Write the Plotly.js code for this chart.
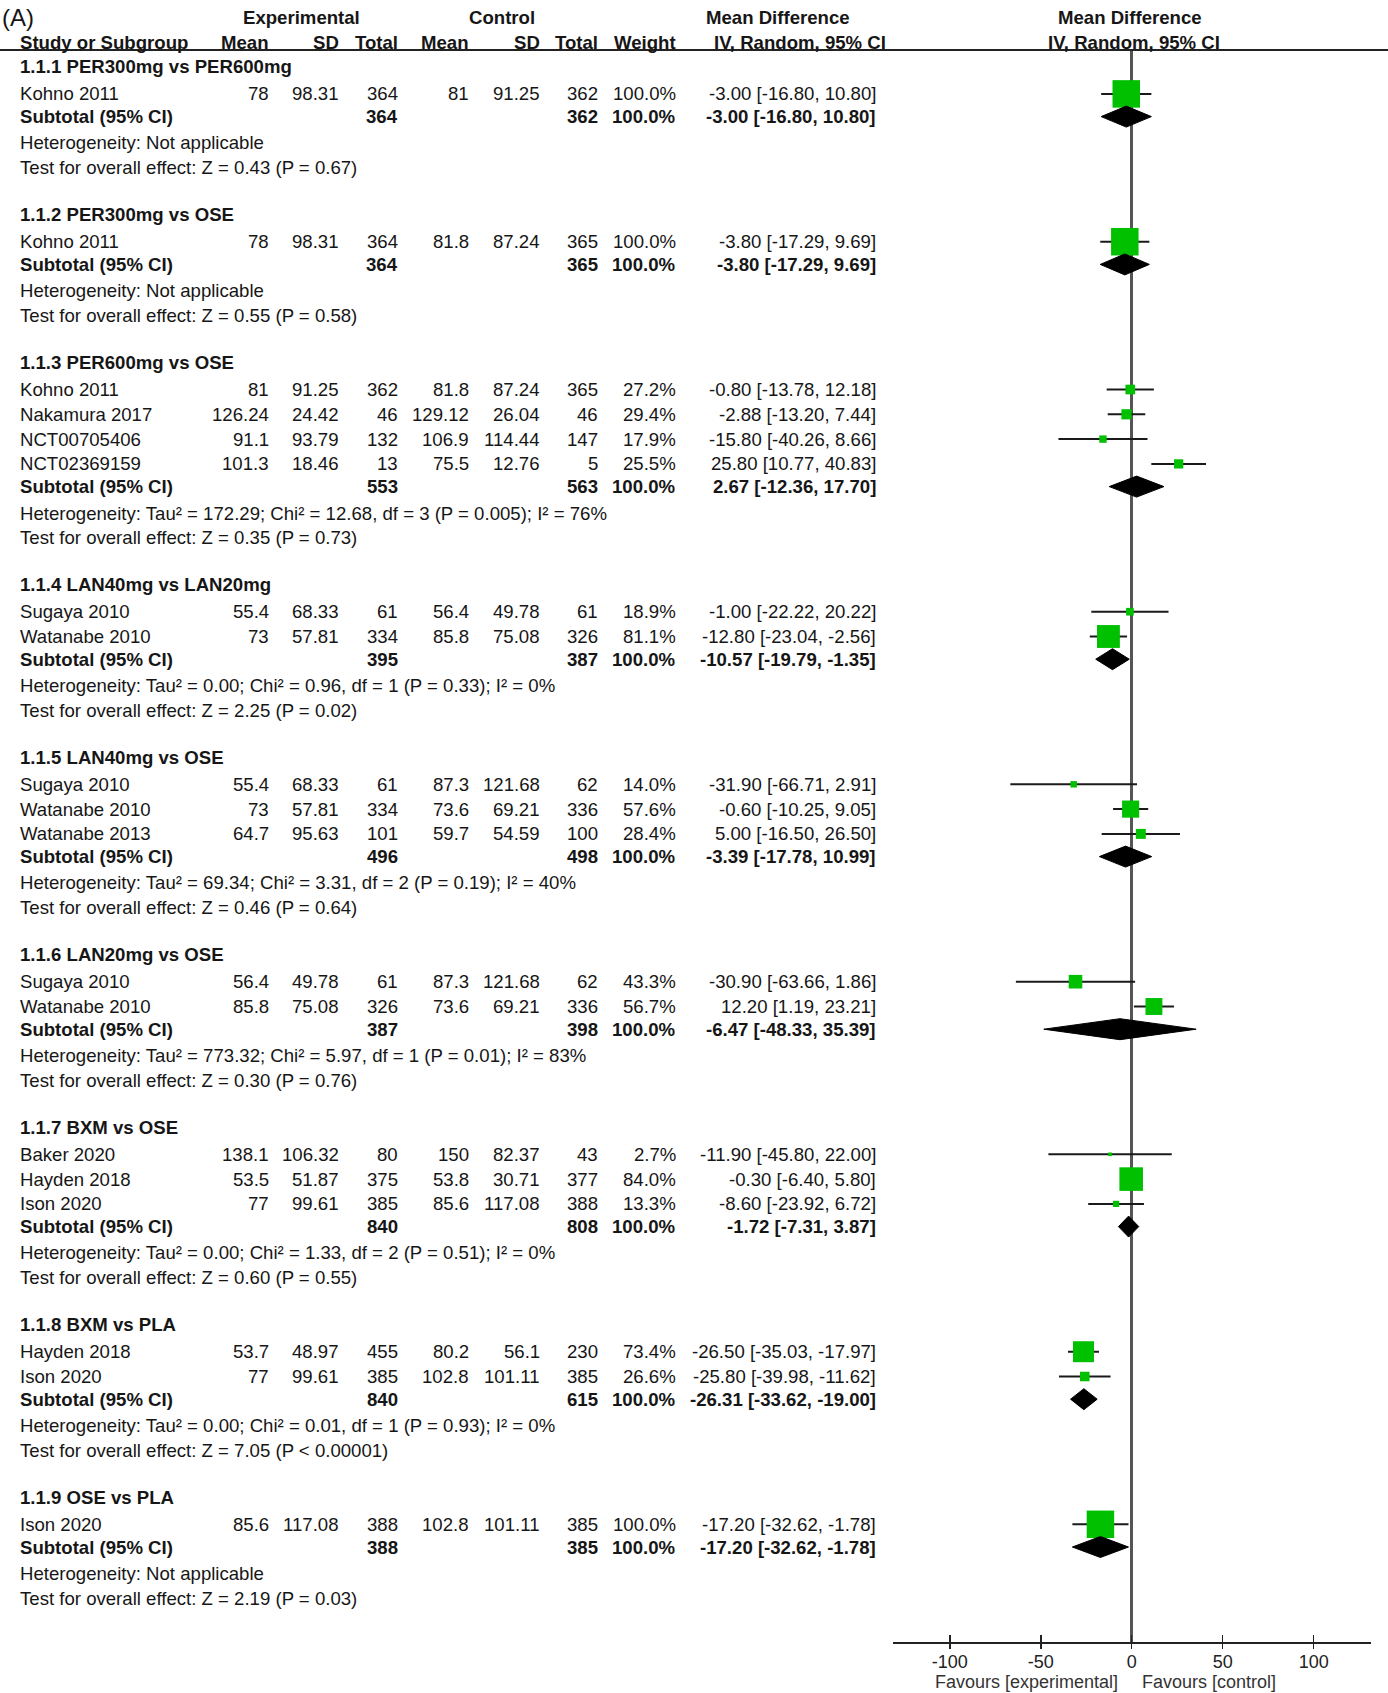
<!DOCTYPE html>
<html>
<head>
<meta charset="utf-8">
<script src="https://cdn.plot.ly/plotly-3.0.1.min.js"></script>
<style>html,body{margin:0;padding:0;background:#fff;}#chart{width:1388px;height:1693px;}</style>
</head>
<body>
<div id="chart"></div>
<script>
// ---------------- DATA ----------------
const groupLabel = ['1.1.1 PER300mg vs PER600mg','1.1.2 PER300mg vs OSE','1.1.3 PER600mg vs OSE','1.1.4 LAN40mg vs LAN20mg','1.1.5 LAN40mg vs OSE','1.1.6 LAN20mg vs OSE','1.1.7 BXM vs OSE','1.1.8 BXM vs PLA','1.1.9 OSE vs PLA'];
const studyGroup = [0,1,2,2,2,2,3,3,4,4,4,5,5,6,6,6,7,7,8];
const studyName = ['Kohno 2011','Kohno 2011','Kohno 2011','Nakamura 2017','NCT00705406','NCT02369159','Sugaya 2010','Watanabe 2010','Sugaya 2010','Watanabe 2010','Watanabe 2013','Sugaya 2010','Watanabe 2010','Baker 2020','Hayden 2018','Ison 2020','Hayden 2018','Ison 2020','Ison 2020'];
const expMean = [78,78,81,126.24,91.1,101.3,55.4,73,55.4,73,64.7,56.4,85.8,138.1,53.5,77,53.7,77,85.6];
const expSD = [98.31,98.31,91.25,24.42,93.79,18.46,68.33,57.81,68.33,57.81,95.63,49.78,75.08,106.32,51.87,99.61,48.97,99.61,117.08];
const expTotal = [364,364,362,46,132,13,61,334,61,334,101,61,326,80,375,385,455,385,388];
const ctlMean = [81,81.8,81.8,129.12,106.9,75.5,56.4,85.8,87.3,73.6,59.7,87.3,73.6,150,53.8,85.6,80.2,102.8,102.8];
const ctlSD = [91.25,87.24,87.24,26.04,114.44,12.76,49.78,75.08,121.68,69.21,54.59,121.68,69.21,82.37,30.71,117.08,56.1,101.11,101.11];
const ctlTotal = [362,365,365,46,147,5,61,326,62,336,100,62,336,43,377,388,230,385,385];
const weight = [100.0,100.0,27.2,29.4,17.9,25.5,18.9,81.1,14.0,57.6,28.4,43.3,56.7,2.7,84.0,13.3,73.4,26.6,100.0];
const meanDiff = [-3.00,-3.80,-0.80,-2.88,-15.80,25.80,-1.00,-12.80,-31.90,-0.60,5.00,-30.90,12.20,-11.90,-0.30,-8.60,-26.50,-25.80,-17.20];
const ciLow = [-16.80,-17.29,-13.78,-13.20,-40.26,10.77,-22.22,-23.04,-66.71,-10.25,-16.50,-63.66,1.19,-45.80,-6.40,-23.92,-35.03,-39.98,-32.62];
const ciHigh = [10.80,9.69,12.18,7.44,8.66,40.83,20.22,-2.56,2.91,9.05,26.50,1.86,23.21,22.00,5.80,6.72,-17.97,-11.62,-1.78];

const subExpTotal = [364,364,553,395,496,387,840,840,388];
const subCtlTotal = [362,365,563,387,498,398,808,615,385];
const subMD = [-3.00,-3.80,2.67,-10.57,-3.39,-6.47,-1.72,-26.31,-17.20];
const subLow = [-16.80,-17.29,-12.36,-19.79,-17.78,-48.33,-7.31,-33.62,-32.62];
const subHigh = [10.80,9.69,17.70,-1.35,10.99,35.39,3.87,-19.00,-1.78];
const hetText = [
  'Heterogeneity: Not applicable',
  'Heterogeneity: Not applicable',
  'Heterogeneity: Tau² = 172.29; Chi² = 12.68, df = 3 (P = 0.005); I² = 76%',
  'Heterogeneity: Tau² = 0.00; Chi² = 0.96, df = 1 (P = 0.33); I² = 0%',
  'Heterogeneity: Tau² = 69.34; Chi² = 3.31, df = 2 (P = 0.19); I² = 40%',
  'Heterogeneity: Tau² = 773.32; Chi² = 5.97, df = 1 (P = 0.01); I² = 83%',
  'Heterogeneity: Tau² = 0.00; Chi² = 1.33, df = 2 (P = 0.51); I² = 0%',
  'Heterogeneity: Tau² = 0.00; Chi² = 0.01, df = 1 (P = 0.93); I² = 0%',
  'Heterogeneity: Not applicable'];
const testText = [
  'Test for overall effect: Z = 0.43 (P = 0.67)',
  'Test for overall effect: Z = 0.55 (P = 0.58)',
  'Test for overall effect: Z = 0.35 (P = 0.73)',
  'Test for overall effect: Z = 2.25 (P = 0.02)',
  'Test for overall effect: Z = 0.46 (P = 0.64)',
  'Test for overall effect: Z = 0.30 (P = 0.76)',
  'Test for overall effect: Z = 0.60 (P = 0.55)',
  'Test for overall effect: Z = 7.05 (P < 0.00001)',
  'Test for overall effect: Z = 2.19 (P = 0.03)'];
const axisTicks = [-100,-50,0,50,100];
const favourLeft = 'Favours [experimental]';
const favourRight = 'Favours [control]';

// ---------------- LAYOUT HELPERS ----------------
const W = 1388, H = 1693;
const FONT = 'Liberation Sans, Arial, sans-serif';
const TXT = '#161616';
const FS = 18.6;
const px = x => x / W;
const py = y => 1 - y / H;
const annotations = [];
function ann(text, x, y, anchor, bold, size) {
  annotations.push({
    text: bold ? '<b>' + text + '</b>' : text,
    xref: 'paper', yref: 'paper', x: px(x), y: py(y),
    xanchor: anchor, yanchor: 'middle', showarrow: false,
    font: {family: FONT, size: size || FS, color: TXT}
  });
}
// column right edges
const C = {name: 18, eMean: 271, eSD: 341, eTot: 400, cMean: 471, cSD: 542, cTot: 600, wt: 678, ci: 878};
const fmtCI = (m, l, h) => m.toFixed(2) + ' [' + l.toFixed(2) + ', ' + h.toFixed(2) + ']';

// header
ann('(A)', 0, 17, 'left', false, 24);
ann('Experimental', 301, 18, 'center', true);
ann('Control', 502, 18, 'center', true);
ann('Mean Difference', 778, 18, 'center', true);
ann('Mean Difference', 1130, 18, 'center', true);
ann('Study or Subgroup', C.name, 42, 'left', true);
ann('Mean', C.eMean, 42, 'right', true);
ann('SD', C.eSD, 42, 'right', true);
ann('Total', C.eTot, 42, 'right', true);
ann('Mean', C.cMean, 42, 'right', true);
ann('SD', C.cSD, 42, 'right', true);
ann('Total', C.cTot, 42, 'right', true);
ann('Weight', C.wt, 42, 'right', true);
ann('IV, Random, 95% CI', 800, 42, 'center', true);
ann('IV, Random, 95% CI', 1134, 42, 'center', true);

// rows
const studyY = [], subY = [];
let y = 66.9;
for (let g = 0; g < groupLabel.length; g++) {
  ann(groupLabel[g], C.name, y, 'left', true);
  let first = true;
  for (let i = 0; i < studyName.length; i++) {
    if (studyGroup[i] !== g) continue;
    y += first ? 27 : 24.8;
    first = false;
    studyY[i] = y;
    ann(studyName[i], C.name, y, 'left', false);
    ann(String(expMean[i]), C.eMean, y, 'right', false);
    ann(String(expSD[i]), C.eSD, y, 'right', false);
    ann(String(expTotal[i]), C.eTot, y, 'right', false);
    ann(String(ctlMean[i]), C.cMean, y, 'right', false);
    ann(String(ctlSD[i]), C.cSD, y, 'right', false);
    ann(String(ctlTotal[i]), C.cTot, y, 'right', false);
    ann(weight[i].toFixed(1) + '%', C.wt, y, 'right', false);
    ann(fmtCI(meanDiff[i], ciLow[i], ciHigh[i]), C.ci, y, 'right', false);
  }
  y += 22.7;
  subY[g] = y;
  ann('Subtotal (95% CI)', C.name, y, 'left', true);
  ann(String(subExpTotal[g]), C.eTot, y, 'right', true);
  ann(String(subCtlTotal[g]), C.cTot, y, 'right', true);
  ann('100.0%', C.wt, y, 'right', true);
  ann(fmtCI(subMD[g], subLow[g], subHigh[g]), C.ci, y, 'right', true);
  y += 26.4;
  ann(hetText[g], C.name, y, 'left', false);
  y += 24.8;
  ann(testText[g], C.name, y, 'left', false);
  y += 46.9;
}
// favours labels
annotations.push({text: favourLeft, xref: 'paper', yref: 'paper', x: px(1120), y: py(1682), xanchor: 'right', yanchor: 'middle', showarrow: false, font: {family: FONT, size: 18, color: '#333'}});
annotations.push({text: favourRight, xref: 'paper', yref: 'paper', x: px(1140), y: py(1682), xanchor: 'left', yanchor: 'middle', showarrow: false, font: {family: FONT, size: 18, color: '#333'}});

// ---------------- TRACES ----------------
const traces = [];
const lx = [], ly = [];
for (let i = 0; i < studyName.length; i++) {
  lx.push(ciLow[i], ciHigh[i], null);
  ly.push(studyY[i], studyY[i], null);
}
traces.push({type: 'scatter', mode: 'lines', x: lx, y: ly, line: {color: '#1a1a1a', width: 2}, hoverinfo: 'skip', showlegend: false});
traces.push({type: 'scatter', mode: 'markers', x: meanDiff, y: studyY, opacity: 1,
  marker: {symbol: 'square', color: '#00c000', opacity: 1, size: weight.map(w => 3 + 0.245 * w), line: {width: 0}},
  hoverinfo: 'skip', showlegend: false});
const DH = 10.5;
for (let g = 0; g < subMD.length; g++) {
  traces.push({type: 'scatter', mode: 'lines', fill: 'toself', fillcolor: '#000',
    x: [subLow[g], subMD[g], subHigh[g], subMD[g], subLow[g]],
    y: [subY[g], subY[g] - DH, subY[g], subY[g] + DH, subY[g]],
    line: {color: '#000', width: 1}, hoverinfo: 'skip', showlegend: false});
}
traces.push({type: 'scatter', x: [], y: [], xaxis: 'x2', yaxis: 'y', showlegend: false, hoverinfo: 'skip'});

const layout = {
  width: W, height: H,
  margin: {l: 0, r: 0, t: 0, b: 0, pad: 0},
  paper_bgcolor: '#fff', plot_bgcolor: 'rgba(0,0,0,0)',
  showlegend: false,
  xaxis: {domain: [893 / W, 1371 / W], range: [-131.2, 131.5], autorange: false,
    tickmode: 'array', tickvals: axisTicks, ticktext: axisTicks.map(String),
    ticks: 'outside', ticklen: 5, tickwidth: 1.5, tickcolor: '#222', ticklabelstandoff: -2,
    showline: true, linecolor: '#222', linewidth: 1.5,
    zeroline: true, zerolinecolor: '#555', zerolinewidth: 2.5,
    showgrid: false, fixedrange: true, anchor: 'y',
    tickfont: {family: FONT, size: 18, color: '#222'}},
  xaxis2: {domain: [893 / W, 1371 / W], range: [-131.2, 131.5], autorange: false, overlaying: 'x', anchor: 'y', side: 'bottom',
    tickmode: 'array', tickvals: axisTicks, showticklabels: false,
    ticks: 'inside', ticklen: 7, tickwidth: 1.5, tickcolor: '#222',
    showline: false, zeroline: false, showgrid: false, fixedrange: true},
  yaxis: {domain: [51 / H, 1643 / H], range: [1642, 50], autorange: false, visible: false,
    showgrid: false, zeroline: false, fixedrange: true},
  shapes: [{type: 'line', xref: 'paper', yref: 'paper', x0: 0, x1: 1, y0: py(50), y1: py(50), line: {color: '#222', width: 2}}],
  annotations: annotations
};
Plotly.newPlot('chart', traces, layout, {staticPlot: true, displayModeBar: false});
</script>
</body>
</html>
